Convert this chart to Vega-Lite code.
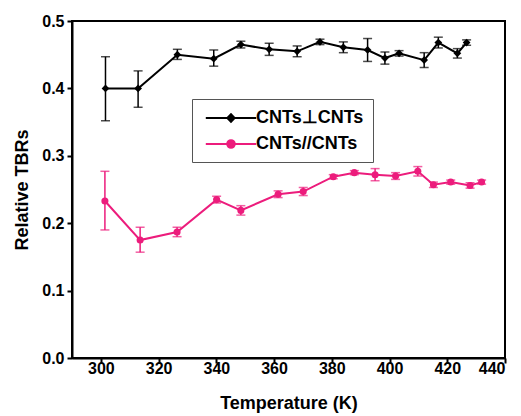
{
  "$schema": "https://vega.github.io/schema/vega-lite/v6.json",
  "width": 433,
  "height": 337,
  "autosize": "none",
  "padding": {"left": 72, "top": 21, "right": 16, "bottom": 58},
  "background": "white",
  "config": {
    "view": {"stroke": "black", "strokeWidth": 2},
    "font": "Liberation Sans",
    "axis": {
      "domainColor": "black", "domainWidth": 2, "tickColor": "black", "tickWidth": 2,
      "grid": false, "labelFont": "Liberation Sans", "labelFontWeight": "bold", "labelFontSize": 16,
      "labelColor": "black", "titleFont": "Liberation Sans", "titleFontWeight": "bold",
      "titleFontSize": 18, "titleColor": "black"
    }
  },
  "data": {"values": [
    {"series": "CNTs⊥CNTs", "T": 301.6, "y": 0.400, "lo": 0.352, "hi": 0.447},
    {"series": "CNTs⊥CNTs", "T": 312.9, "y": 0.400, "lo": 0.372, "hi": 0.426},
    {"series": "CNTs⊥CNTs", "T": 326.5, "y": 0.450, "lo": 0.443, "hi": 0.458},
    {"series": "CNTs⊥CNTs", "T": 339.1, "y": 0.444, "lo": 0.433, "hi": 0.457},
    {"series": "CNTs⊥CNTs", "T": 348.5, "y": 0.465, "lo": 0.460, "hi": 0.470},
    {"series": "CNTs⊥CNTs", "T": 358.3, "y": 0.458, "lo": 0.449, "hi": 0.467},
    {"series": "CNTs⊥CNTs", "T": 368.0, "y": 0.455, "lo": 0.447, "hi": 0.463},
    {"series": "CNTs⊥CNTs", "T": 375.9, "y": 0.469, "lo": 0.465, "hi": 0.473},
    {"series": "CNTs⊥CNTs", "T": 384.0, "y": 0.461, "lo": 0.453, "hi": 0.469},
    {"series": "CNTs⊥CNTs", "T": 392.4, "y": 0.457, "lo": 0.440, "hi": 0.474},
    {"series": "CNTs⊥CNTs", "T": 398.4, "y": 0.445, "lo": 0.436, "hi": 0.454},
    {"series": "CNTs⊥CNTs", "T": 403.3, "y": 0.452, "lo": 0.448, "hi": 0.456},
    {"series": "CNTs⊥CNTs", "T": 412.0, "y": 0.442, "lo": 0.431, "hi": 0.453},
    {"series": "CNTs⊥CNTs", "T": 416.9, "y": 0.468, "lo": 0.460, "hi": 0.476},
    {"series": "CNTs⊥CNTs", "T": 423.5, "y": 0.452, "lo": 0.445, "hi": 0.459},
    {"series": "CNTs⊥CNTs", "T": 426.7, "y": 0.468, "lo": 0.464, "hi": 0.472},
    {"series": "CNTs//CNTs", "T": 301.4, "y": 0.233, "lo": 0.190, "hi": 0.277},
    {"series": "CNTs//CNTs", "T": 313.6, "y": 0.175, "lo": 0.157, "hi": 0.194},
    {"series": "CNTs//CNTs", "T": 326.4, "y": 0.187, "lo": 0.180, "hi": 0.194},
    {"series": "CNTs//CNTs", "T": 340.1, "y": 0.235, "lo": 0.230, "hi": 0.240},
    {"series": "CNTs//CNTs", "T": 348.5, "y": 0.219, "lo": 0.212, "hi": 0.226},
    {"series": "CNTs//CNTs", "T": 361.4, "y": 0.243, "lo": 0.238, "hi": 0.248},
    {"series": "CNTs//CNTs", "T": 370.1, "y": 0.247, "lo": 0.241, "hi": 0.253},
    {"series": "CNTs//CNTs", "T": 380.5, "y": 0.269, "lo": 0.266, "hi": 0.272},
    {"series": "CNTs//CNTs", "T": 387.8, "y": 0.275, "lo": 0.272, "hi": 0.278},
    {"series": "CNTs//CNTs", "T": 395.0, "y": 0.272, "lo": 0.263, "hi": 0.281},
    {"series": "CNTs//CNTs", "T": 402.1, "y": 0.270, "lo": 0.265, "hi": 0.275},
    {"series": "CNTs//CNTs", "T": 409.8, "y": 0.277, "lo": 0.270, "hi": 0.284},
    {"series": "CNTs//CNTs", "T": 415.2, "y": 0.257, "lo": 0.253, "hi": 0.261},
    {"series": "CNTs//CNTs", "T": 421.2, "y": 0.261, "lo": 0.258, "hi": 0.264},
    {"series": "CNTs//CNTs", "T": 427.9, "y": 0.256, "lo": 0.252, "hi": 0.260},
    {"series": "CNTs//CNTs", "T": 431.9, "y": 0.261, "lo": 0.258, "hi": 0.264}
  ]},
  "resolve": {"scale": {"x": "independent", "y": "independent"}, "axis": {"x": "independent", "y": "independent"}},
  "layer": [
    {
      "mark": {"type": "errorbar", "ticks": {"size": 9, "thickness": 1.5}, "thickness": 1.5},
      "encoding": {
        "x": {"field": "T", "type": "quantitative",
              "scale": {"domain": [290, 440], "nice": false, "zero": false},
              "axis": {"orient": "bottom", "values": [300, 320, 340, 360, 380, 400, 420, 440],
                       "ticks": true, "tickSize": 5, "labelPadding": -3, "title": "Temperature (K)", "titlePadding": 18}},
        "y": {"field": "lo", "type": "quantitative",
              "scale": {"domain": [0, 0.5], "nice": false, "zero": false},
              "axis": {"orient": "left", "values": [0, 0.1, 0.2, 0.3, 0.4, 0.5], "format": ".1f",
                       "ticks": true, "tickSize": 5, "labelPadding": 3, "title": "Relative TBRs", "titlePadding": 10}},
        "y2": {"field": "hi"},
        "color": {"field": "series", "type": "nominal",
                  "scale": {"domain": ["CNTs⊥CNTs", "CNTs//CNTs"], "range": ["#000000", "#ec1c7c"]},
                  "legend": {
                    "title": null, "orient": "none", "legendX": 120, "legendY": 78,
                    "strokeColor": "#555555", "padding": 9, "rowPadding": 7,
                    "labelFont": "Liberation Sans", "labelFontWeight": "bold", "labelFontSize": 18,
                    "labelColor": "black", "symbolSize": 324, "symbolOffset": 20, "labelOffset": 15,
                    "symbolType": "M-2.8,0H-0.4L0,-0.42L0.4,0L0,0.42L-0.4,0ZM0.4,0H2.8",
                    "symbolStrokeWidth": 2,
                    "encode": {"symbols": {"update": {
                      "shape": [
                        {"test": "datum.value === 'CNTs⊥CNTs'", "value": "M-2.8,0H-0.4L0,-0.42L0.4,0L0,0.42L-0.4,0ZM0.4,0H2.8"},
                        {"value": "M-2.8,0H-0.42A0.42,0.42,0,1,1,0.42,0A0.42,0.42,0,1,1,-0.42,0ZM0.42,0H2.8"}
                      ],
                      "fill": {"scale": "color", "field": "value"},
                      "stroke": {"scale": "color", "field": "value"},
                      "strokeWidth": {"value": 2},
                      "fillOpacity": {"value": 1},
                      "opacity": {"value": 1}
                    }}}
                  }}
      }
    },
    {
      "mark": {"type": "line", "strokeWidth": 2},
      "encoding": {
        "x": {"field": "T", "type": "quantitative",
              "scale": {"domain": [290, 440], "nice": false, "zero": false}, "axis": null},
        "y": {"field": "y", "type": "quantitative",
              "scale": {"domain": [0, 0.5], "nice": false, "zero": false}, "axis": null},
        "color": {"field": "series", "type": "nominal"}
      }
    },
    {
      "transform": [{"filter": "datum.series === 'CNTs⊥CNTs'"}],
      "mark": {"type": "point", "filled": true, "opacity": 1, "shape": "diamond", "size": 60},
      "encoding": {
        "x": {"field": "T", "type": "quantitative",
              "scale": {"domain": [290, 440], "nice": false, "zero": false}, "axis": null},
        "y": {"field": "y", "type": "quantitative",
              "scale": {"domain": [0, 0.5], "nice": false, "zero": false}, "axis": null},
        "color": {"field": "series", "type": "nominal"}
      }
    },
    {
      "transform": [{"filter": "datum.series === 'CNTs//CNTs'"}],
      "mark": {"type": "point", "filled": true, "opacity": 1, "shape": "circle", "size": 50},
      "encoding": {
        "x": {"field": "T", "type": "quantitative",
              "scale": {"domain": [290, 440], "nice": false, "zero": false}, "axis": null},
        "y": {"field": "y", "type": "quantitative",
              "scale": {"domain": [0, 0.5], "nice": false, "zero": false}, "axis": null},
        "color": {"field": "series", "type": "nominal"}
      }
    }
  ]
}
